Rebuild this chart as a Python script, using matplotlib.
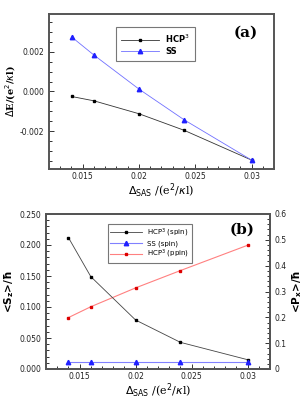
import matplotlib
matplotlib.use("Agg")
import matplotlib.pyplot as plt
from matplotlib.ticker import MultipleLocator, FormatStrFormatter, FuncFormatter

# data
delta_sas = [0.014, 0.016, 0.020, 0.024, 0.030]
dE_hcp3 = [-0.00025, -0.00047, -0.00112, -0.00195, -0.00345]
dE_ss = [0.00275, 0.00183, 0.00012, -0.00142, -0.00345]
sz_hcp3 = [0.212, 0.149, 0.079, 0.043, 0.015]
sz_ss = [0.0115, 0.0115, 0.0115, 0.0115, 0.0115]
px_hcp3 = [0.199, 0.241, 0.314, 0.381, 0.479]

SPINE = "#555555"
TICKFS = 5.5


def x_fmt(v, _):
    return f"{v:.3f}".rstrip("0")


def style_axes(ax):
    for sp in ax.spines.values():
        sp.set_color(SPINE)
        sp.set_linewidth(1.4)
    ax.tick_params(which="both", direction="in", labelsize=TICKFS, colors="#333333",
                   labelcolor="#222222", width=0.7)
    ax.tick_params(which="major", length=3.5)
    ax.tick_params(which="minor", length=2)
    ax.tick_params(axis="x", pad=2.5)
    ax.set_xlim(0.012, 0.032)
    ax.xaxis.set_major_locator(MultipleLocator(0.005))
    ax.xaxis.set_minor_locator(MultipleLocator(0.001))
    ax.xaxis.set_major_formatter(FuncFormatter(x_fmt))


fig = plt.figure(figsize=(3.04, 4.04), dpi=100)

# ---- panel (a)
ax1 = fig.add_axes([49 / 304, 1 - 169 / 404, 225 / 304, 155 / 404])
style_axes(ax1)
ax1.plot(delta_sas, dE_hcp3, color="#333333", lw=0.6, marker="s", ms=2,
         mfc="black", mec="black", label="HCP$^3$")
ax1.plot(delta_sas, dE_ss, color="#7070ff", lw=0.6, marker="^", ms=3.2,
         mfc="#2020ff", mec="#2020ff", label="SS")
ax1.set_ylim(-0.0039, 0.0039)
ax1.yaxis.set_major_locator(MultipleLocator(0.002))
ax1.yaxis.set_minor_locator(MultipleLocator(0.0005))
ax1.yaxis.set_major_formatter(FormatStrFormatter("%.3f"))
ax1.tick_params(right=False, top=False, which="both")
ax1.set_ylabel(r"$\Delta$E/(e$^2$/$\kappa$l)", family="DejaVu Serif", fontsize=7,
               fontweight="bold", labelpad=1)
ax1.set_xlabel(r"$\Delta_{\mathrm{SAS}}$ /(e$^2$/$\kappa$l)", family="DejaVu Serif",
               fontsize=8, labelpad=0)
leg1 = ax1.legend(loc="upper left", bbox_to_anchor=(0.28, 0.94),
                  prop={"weight": "bold", "size": 6}, fancybox=False,
                  edgecolor="#777777", framealpha=1, handlelength=4.5,
                  borderpad=0.6, labelspacing=0.3)
leg1.get_frame().set_linewidth(0.8)
ax1.text(0.93, 0.88, "(a)", transform=ax1.transAxes, ha="right", va="center",
         family="DejaVu Serif", fontsize=11, fontweight="bold")

# ---- panel (b)
ax2 = fig.add_axes([46 / 304, 1 - 369 / 404, 224 / 304, 155 / 404])
style_axes(ax2)
l1, = ax2.plot(delta_sas, sz_hcp3, color="#444444", lw=0.6, marker="s", ms=2,
               mfc="black", mec="black", label="HCP$^3$ (spin)")
l2, = ax2.plot(delta_sas, sz_ss, color="#8080ff", lw=0.8, marker="^", ms=3.2,
               mfc="#2020ff", mec="#2020ff", label="SS (spin)")
ax2.set_ylim(0, 0.25)
ax2.yaxis.set_major_locator(MultipleLocator(0.05))
ax2.yaxis.set_minor_locator(MultipleLocator(0.01))
ax2.yaxis.set_major_formatter(FormatStrFormatter("%.3f"))
ax2.tick_params(right=False, top=False, which="both")
ax2.set_ylabel(r"<S$_\mathregular{z}$>/ħ", fontsize=7.5, fontweight="bold", labelpad=2)
ax2.set_xlabel(r"$\Delta_{\mathrm{SAS}}$ /(e$^2$/$\kappa$l)", family="DejaVu Serif",
               fontsize=8, labelpad=0)

ax3 = ax2.twinx()
l3, = ax3.plot(delta_sas, px_hcp3, color="#ff8080", lw=0.8, marker="s", ms=2,
               mfc="#dd0000", mec="#dd0000", label="HCP$^3$ (ppin)")
ax3.set_ylim(0, 0.6)
ax3.yaxis.set_major_locator(MultipleLocator(0.1))
ax3.yaxis.set_minor_locator(MultipleLocator(0.02))
ax3.yaxis.set_major_formatter(FuncFormatter(lambda v, _: f"{v:.1f}" if v > 0 else "0"))
for sp in ax3.spines.values():
    sp.set_color(SPINE)
    sp.set_linewidth(1.4)
ax3.tick_params(which="both", direction="in", labelsize=TICKFS, labelcolor="#222222",
                colors="#333333", width=0.7)
ax3.tick_params(which="major", length=3.5)
ax3.tick_params(which="minor", length=2)
ax3.set_ylabel(r"<P$_\mathregular{x}$>/ħ", fontsize=7.5, fontweight="bold", labelpad=2)

leg2 = ax2.legend([l1, l2, l3], [l.get_label() for l in (l1, l2, l3)],
                  loc="upper left", bbox_to_anchor=(0.26, 0.96),
                  prop={"size": 5}, fancybox=False, edgecolor="#777777",
                  framealpha=1, handlelength=4.5, borderpad=0.4, labelspacing=0.2)
leg2.get_frame().set_linewidth(0.8)
ax2.set_zorder(ax3.get_zorder() + 1)
ax2.patch.set_visible(False)
ax2.text(0.93, 0.9, "(b)", transform=ax2.transAxes, ha="right", va="center",
         family="DejaVu Serif", fontsize=11, fontweight="bold")

fig.savefig("out.png", dpi=100, facecolor="white")
